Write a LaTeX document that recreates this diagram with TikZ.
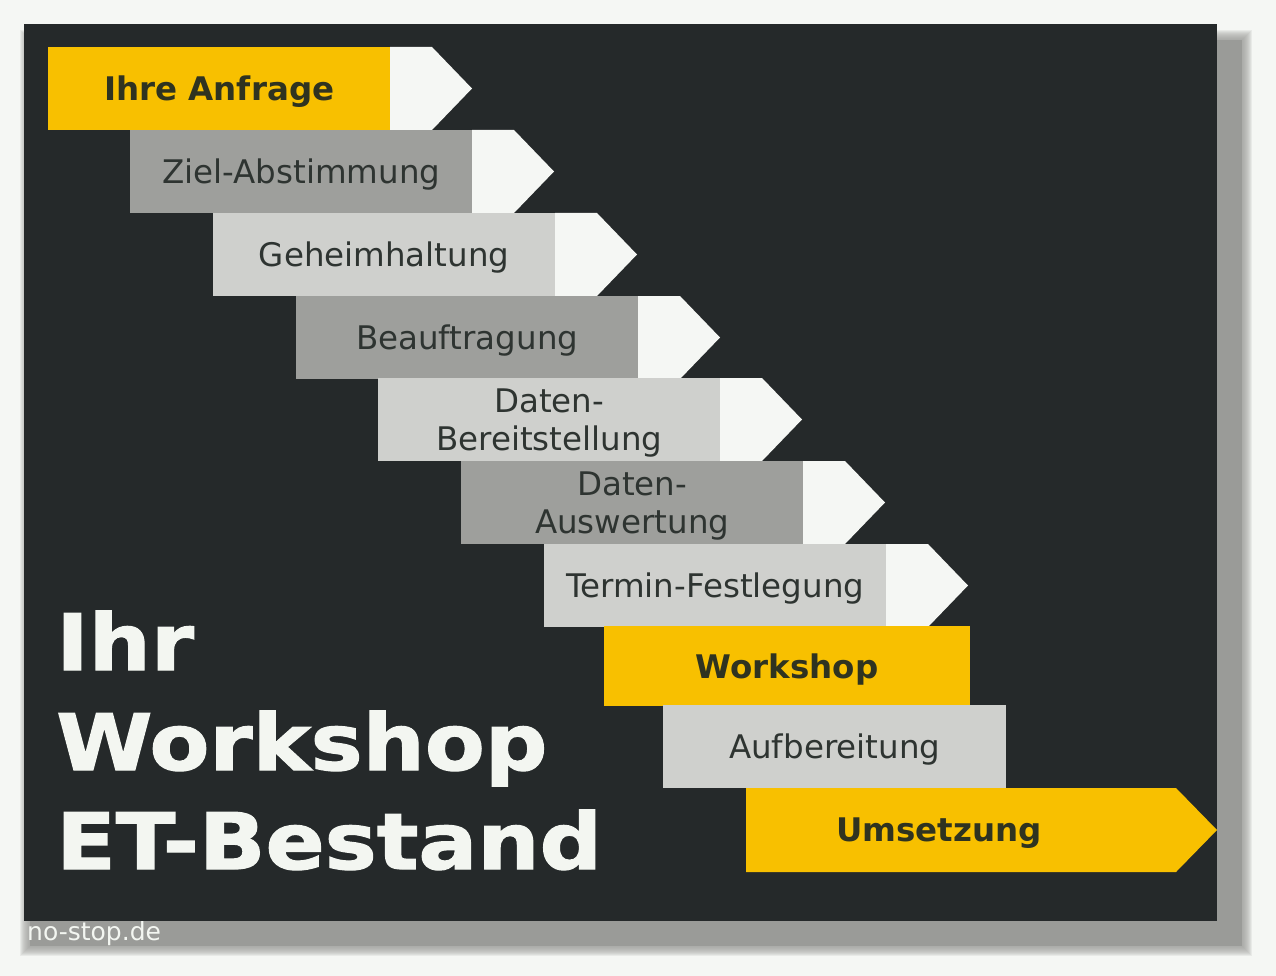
\documentclass[tikz,border=0pt]{standalone}
\usepackage{fontspec}
\setmainfont{DejaVu Sans}
\newfontfamily\titlefont{DejaVu Sans}[FakeStretch=1.12,FakeBold=1.6]
\definecolor{pagebg}{HTML}{F5F7F4}
\definecolor{board}{HTML}{25292A}
\definecolor{shadowgray}{HTML}{9A9B98}
\definecolor{ygold}{HTML}{F8C000}
\definecolor{midgray}{HTML}{9E9F9C}
\definecolor{lightgray}{HTML}{CFD0CD}
\definecolor{arrowwhite}{HTML}{F5F7F4}
\definecolor{txtdark}{HTML}{2E3431}
\definecolor{txtbold}{HTML}{2F3320}
\definecolor{titlewhite}{HTML}{F3F6F1}
\begin{document}
\begin{tikzpicture}[x=1pt,y=-1pt,
  stepbox/.style={rectangle,inner sep=0pt,minimum width=342pt,minimum height=83pt,anchor=north west},
  midbox/.style={stepbox,fill=midgray},
  lightbox/.style={stepbox,fill=lightgray},
  goldbox/.style={stepbox,fill=ygold},
  steptext/.style={inner sep=0pt,text=txtdark,font=\fontsize{32.5}{38}\selectfont,align=center},
  boldtext/.style={steptext,text=txtbold,font=\fontsize{32.5}{38}\selectfont\bfseries},
  tipshape/.style={fill=arrowwhite},
  titletext/.style={anchor=base west,inner sep=0pt,text=titlewhite,font=\fontsize{78}{100}\selectfont\titlefont\bfseries}
]
\useasboundingbox (0,0) rectangle (1276,976);
\fill[pagebg] (0,0) rectangle (1276,976);
% soft shadow
\fill[shadowgray] (30,40) rectangle (1242,946);
\foreach \d in {1,...,10}{
  \fill[shadowgray,opacity=0.14] (30-\d,40-\d) rectangle (1242+\d,946+\d);
}
\fill[board] (24,24) rectangle (1217,921);

% white arrow tips
\foreach \r/\t in {390/47,472/130,555/213,638/296,720/378,803/461,886/544}{
  \fill[tipshape] (\r,\t) -- (\r+42,\t) -- (\r+82,\t+41.5) -- (\r+42,\t+83) -- (\r,\t+83) -- cycle;
}

\node[goldbox]  (s1) at (48,47)  {};
\node[midbox]   (s2) at (130,130) {};
\node[lightbox] (s3) at (213,213) {};
\node[midbox]   (s4) at (296,296) {};
\node[lightbox] (s5) at (378,378) {};
\node[midbox]   (s6) at (461,461) {};
\node[lightbox] (s7) at (544,544) {};
\node[goldbox,minimum width=366pt,minimum height=80pt] (s8) at (604,626) {};
\node[lightbox,minimum width=343pt] (s9) at (663,705) {};
\fill[ygold] (746,788) -- (1176,788) -- (1217,830) -- (1176,872) -- (746,872) -- cycle;

\node[boldtext] (l1) at ([yshift=-3pt]s1.center) {Ihre Anfrage};
\node[steptext] (l2) at ([yshift=-3pt]s2.center) {Ziel-Abstimmung};
\node[steptext] (l3) at ([yshift=-3pt]s3.center) {Geheimhaltung};
\node[steptext] (l4) at ([yshift=-3pt]s4.center) {Beauftragung};
\node[steptext] (l5) at ([yshift=-3pt]s5.center) {Daten-\\Bereitstellung};
\node[steptext] (l6) at ([yshift=-3pt]s6.center) {Daten-\\Auswertung};
\node[steptext] (l7) at ([yshift=-3pt]s7.center) {Termin-Festlegung};
\node[boldtext] (l8) at ([yshift=-3pt]s8.center) {Workshop};
\node[steptext] (l9) at ([yshift=-3pt]s9.center) {Aufbereitung};
\node[boldtext] (l10) at (939,833) {Umsetzung};

\node[titletext] (t1) at (56,670) {Ihr};
\node[titletext] (t2) at (56,770) {Workshop};
\node[titletext] (t3) at (56,869) {ET-Bestand};

\node[anchor=base west,inner sep=0pt,text=titlewhite,font=\fontsize{25}{30}\selectfont] (wm) at (27,940) {no-stop.de};
\end{tikzpicture}
\end{document}
